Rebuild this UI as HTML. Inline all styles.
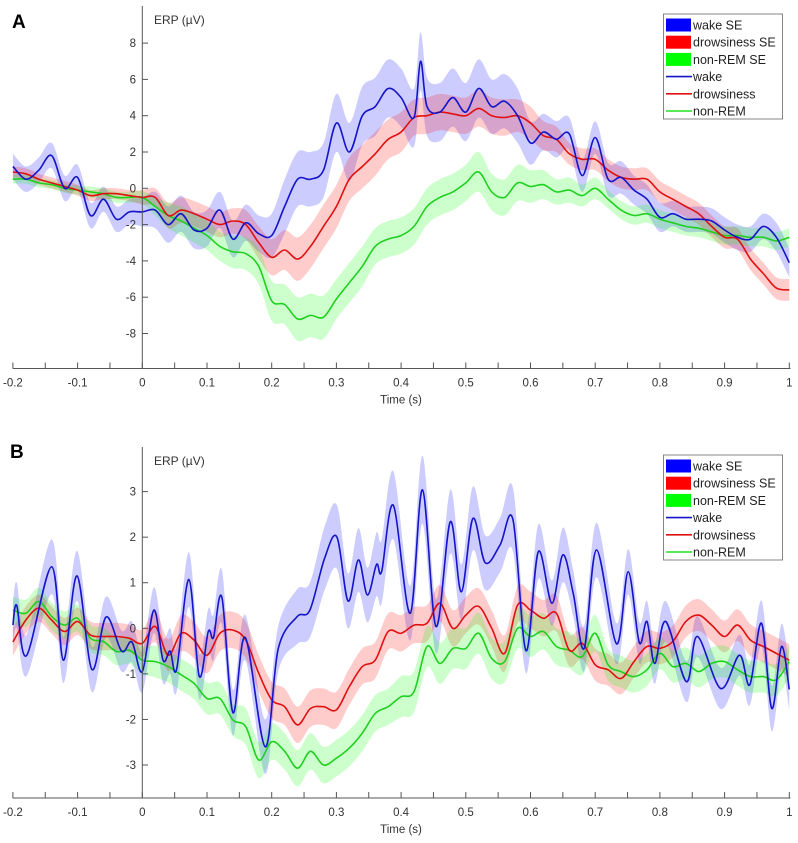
<!DOCTYPE html>
<html><head><meta charset="utf-8">
<style>
html,body{margin:0;padding:0;background:#fff;}
svg{display:block;font-family:"Liberation Sans",Arial,sans-serif;}
</style></head>
<body>
<svg id="chart" width="798" height="843" viewBox="0 0 798 843"></svg>
<script>
// ---------- Panel A data ----------
const timesA = [-0.2,-0.18,-0.16,-0.14,-0.12,-0.1,-0.08,-0.06,-0.04,-0.02,0,0.02,0.04,0.06,0.08,0.1,0.12,0.14,0.16,0.18,0.2,0.22,0.24,0.26,0.28,0.3,0.32,0.34,0.36,0.38,0.4,0.42,0.43,0.44,0.46,0.48,0.5,0.52,0.54,0.56,0.58,0.6,0.62,0.64,0.66,0.68,0.7,0.72,0.74,0.76,0.78,0.8,0.82,0.84,0.86,0.88,0.9,0.92,0.94,0.96,0.98,1.0];
const wakeA = [1.2,0.5,1.0,1.8,0,0.6,-1.5,-0.6,-1.7,-1.3,-1.3,-1.2,-2.0,-1.4,-2.3,-2.2,-1.2,-2.8,-1.9,-2.5,-2.6,-1.0,0.5,0.5,1.0,3.6,2.0,4.0,4.5,5.5,5.0,3.9,7.0,4.5,4.2,5.0,4.2,5.5,4.5,4.8,4.0,2.5,3.1,2.7,3.0,0.7,2.8,0.5,0.6,-0.1,-0.6,-1.6,-1.4,-1.7,-1.7,-1.8,-2.3,-2.7,-2.8,-2.1,-2.7,-4.1];
const wakeSeA = [0.7,0.7,0.7,0.7,0.7,0.7,0.7,0.7,0.7,0.7,0.8,1.0,1.0,1.0,1.0,1.0,1.0,1.0,1.0,1.0,1.2,1.5,1.5,1.5,1.5,1.6,1.6,1.6,1.6,1.6,1.6,1.6,1.6,1.6,1.6,1.6,1.6,1.6,1.5,1.5,1.5,1.2,1.0,1.0,0.9,0.9,0.9,0.9,0.9,0.8,0.8,0.8,0.7,0.7,0.7,0.7,0.7,0.7,0.7,0.7,0.8,0.8];
const timesA2 = [-0.2,-0.18,-0.16,-0.14,-0.12,-0.1,-0.08,-0.06,-0.04,-0.02,0,0.02,0.04,0.06,0.08,0.1,0.12,0.14,0.16,0.18,0.2,0.22,0.24,0.26,0.28,0.3,0.32,0.34,0.36,0.38,0.4,0.42,0.44,0.46,0.48,0.5,0.52,0.54,0.56,0.58,0.6,0.62,0.64,0.66,0.68,0.7,0.72,0.74,0.76,0.78,0.8,0.82,0.84,0.86,0.88,0.9,0.92,0.94,0.96,0.98,1.0];
const drowsyA = [0.9,0.8,0.5,0.3,0.1,-0.1,-0.4,-0.3,-0.3,-0.4,-0.5,-0.5,-1.5,-1.2,-1.4,-1.7,-2.0,-1.8,-2.0,-3.0,-3.8,-3.4,-3.9,-3.2,-2.1,-1.0,0.5,1.2,1.9,2.7,3.1,3.9,4.0,4.2,4.1,4.0,4.4,4.0,3.9,4.0,3.6,2.9,2.7,1.9,1.6,1.6,1.0,0.6,0.5,0.5,-0.2,-0.6,-1.0,-1.4,-2.1,-2.7,-2.8,-3.9,-4.7,-5.5,-5.6];
const drowsySeA = [0.3,0.3,0.3,0.3,0.3,0.3,0.3,0.3,0.3,0.3,0.4,0.5,0.7,0.7,0.7,0.7,0.7,0.7,0.8,0.9,1.0,1.1,1.2,1.2,1.2,1.2,1.2,1.2,1.2,1.1,1.1,1.0,1.0,1.0,1.0,1.0,1.0,1.0,1.0,0.9,0.9,0.8,0.7,0.6,0.6,0.6,0.6,0.6,0.6,0.6,0.6,0.6,0.6,0.6,0.6,0.6,0.6,0.6,0.6,0.6,0.6];
const nremA = [0.5,0.5,0.3,0.2,0.0,-0.1,-0.2,-0.3,-0.5,-0.5,-0.5,-1.0,-1.5,-1.8,-2.2,-2.6,-3.2,-3.5,-3.6,-4.3,-6.2,-6.4,-7.2,-7.0,-7.1,-6.1,-5.2,-4.3,-3.2,-2.8,-2.6,-2.1,-1.0,-0.5,-0.2,0.3,0.9,-0.2,-0.5,0.3,0.1,0.2,-0.2,-0.1,-0.4,0.0,-0.6,-1.2,-1.5,-1.4,-1.7,-1.9,-2.1,-2.2,-2.4,-2.6,-2.6,-2.7,-2.7,-2.9,-2.7];
const nremSeA = [0.25,0.25,0.25,0.25,0.25,0.25,0.3,0.3,0.3,0.3,0.35,0.5,0.7,0.8,0.8,0.8,0.8,0.9,0.9,1.0,1.1,1.1,1.2,1.2,1.2,1.1,1.1,1.1,1.0,1.0,1.0,1.0,1.0,1.0,1.0,1.0,1.1,1.0,1.0,1.0,0.9,0.8,0.7,0.7,0.6,0.6,0.5,0.5,0.5,0.5,0.5,0.5,0.5,0.5,0.5,0.5,0.5,0.5,0.5,0.5,0.5];

// ---------- Panel B data ----------
const timesWakeB = [-0.2,-0.194,-0.179,-0.14,-0.122,-0.101,-0.078,-0.056,-0.032,-0.016,0,0.018,0.032,0.043,0.053,0.072,0.088,0.102,0.11,0.123,0.14,0.159,0.19,0.21,0.239,0.259,0.282,0.301,0.318,0.334,0.348,0.362,0.37,0.388,0.414,0.433,0.454,0.476,0.493,0.511,0.53,0.553,0.573,0.593,0.612,0.633,0.65,0.666,0.683,0.702,0.733,0.751,0.768,0.78,0.792,0.809,0.841,0.858,0.894,0.923,0.939,0.957,0.973,0.988,1.0];
const wakeB = [0.07,0.5,-0.6,1.35,-0.7,1.15,-0.9,0.25,-0.5,-0.3,-0.95,0.4,-0.7,-0.5,-0.9,1.07,-1.05,-0.07,-0.2,0.68,-1.85,-0.2,-2.6,-0.45,0.25,0.4,1.55,2.0,0.6,1.5,0.73,1.4,1.25,2.7,0.33,3.04,0.04,2.34,0.8,2.41,1.44,1.83,2.38,-0.49,1.68,0.55,1.61,0.77,-0.44,1.72,-0.34,1.24,-0.31,0.15,-0.77,0.15,-1.17,-0.18,-1.32,-0.59,-1.24,0.11,-1.76,-0.4,-1.34];
const wakeSeB = [0.45,0.5,0.45,0.6,0.5,0.55,0.5,0.45,0.45,0.45,0.45,0.5,0.5,0.5,0.5,0.6,0.5,0.5,0.5,0.6,0.5,0.5,0.6,0.5,0.6,0.6,0.7,0.7,0.6,0.7,0.6,0.7,0.7,0.75,0.6,0.75,0.6,0.7,0.6,0.7,0.6,0.6,0.7,0.5,0.6,0.5,0.6,0.5,0.5,0.6,0.45,0.5,0.45,0.45,0.45,0.45,0.45,0.45,0.45,0.45,0.45,0.5,0.5,0.5,0.45];
const timesB = [-0.2,-0.18,-0.16,-0.14,-0.12,-0.1,-0.08,-0.06,-0.04,-0.02,0,0.02,0.04,0.06,0.08,0.1,0.12,0.14,0.16,0.18,0.2,0.22,0.24,0.26,0.28,0.3,0.32,0.34,0.36,0.38,0.4,0.42,0.44,0.46,0.48,0.5,0.52,0.54,0.56,0.58,0.6,0.62,0.64,0.66,0.68,0.7,0.72,0.74,0.76,0.78,0.8,0.82,0.84,0.86,0.88,0.9,0.92,0.94,0.96,0.98,1.0];
const drowsyB = [-0.3,0.18,0.44,0.18,-0.07,0.15,-0.15,-0.18,-0.18,-0.22,-0.33,0.04,-0.59,-0.11,-0.26,-0.59,-0.11,-0.04,-0.26,-0.99,-1.57,-1.72,-2.12,-1.76,-1.72,-1.79,-1.28,-0.84,-0.7,-0.07,-0.11,0.07,0.11,0.55,0.0,0.29,0.48,0.0,-0.55,0.51,0.4,0.22,0.33,-0.48,-0.33,-0.8,-0.91,-1.1,-0.73,-0.4,-0.44,-0.29,0.15,0.29,0.07,-0.18,0.07,-0.26,-0.4,-0.55,-0.7];
const drowsySeB = [0.3,0.3,0.3,0.3,0.3,0.3,0.3,0.3,0.3,0.3,0.3,0.35,0.35,0.4,0.4,0.4,0.4,0.4,0.4,0.4,0.4,0.4,0.4,0.4,0.4,0.4,0.4,0.4,0.4,0.4,0.4,0.4,0.4,0.4,0.4,0.4,0.4,0.4,0.4,0.4,0.4,0.4,0.4,0.35,0.35,0.35,0.35,0.35,0.35,0.35,0.35,0.35,0.35,0.35,0.35,0.35,0.35,0.35,0.35,0.35,0.35];
const nremB = [0.4,0.33,0.59,0.26,0.07,0.22,-0.22,-0.29,-0.51,-0.48,-0.7,-0.73,-0.84,-1.02,-1.21,-1.54,-1.54,-2.01,-2.16,-2.89,-2.49,-2.7,-3.07,-2.7,-3.0,-2.85,-2.63,-2.3,-1.87,-1.72,-1.5,-1.39,-0.4,-0.77,-0.44,-0.44,-0.11,-0.66,-0.73,0.0,-0.18,-0.07,-0.4,-0.48,-0.62,-0.11,-0.8,-0.95,-1.06,-0.91,-0.55,-0.84,-0.77,-0.95,-0.77,-0.73,-0.91,-1.06,-1.06,-1.13,-0.73];
const nremSeB = [0.3,0.3,0.3,0.3,0.3,0.3,0.3,0.3,0.3,0.3,0.3,0.35,0.35,0.35,0.35,0.35,0.35,0.35,0.4,0.4,0.4,0.4,0.4,0.4,0.4,0.4,0.4,0.4,0.4,0.4,0.45,0.45,0.45,0.45,0.45,0.45,0.45,0.45,0.45,0.45,0.45,0.4,0.4,0.4,0.4,0.4,0.35,0.35,0.35,0.35,0.35,0.35,0.35,0.35,0.35,0.35,0.35,0.35,0.35,0.35,0.35];

const xTickLabels = ["-0.2","-0.1","0","0.1","0.2","0.3","0.4","0.5","0.6","0.7","0.8","0.9","1"];
const yTicksA = [-8,-6,-4,-2,0,2,4,6,8];
const yTicksB = [-3,-2,-1,0,1,2,3];
const legendLabels = ["wake SE","drowsiness SE","non-REM SE","wake","drowsiness","non-REM"];

const NS = "http://www.w3.org/2000/svg";
const svg = document.getElementById('chart');
function mk(tag, attrs, parent){
  const e = document.createElementNS(NS, tag);
  for (const k in attrs) e.setAttribute(k, attrs[k]);
  (parent||svg).appendChild(e);
  return e;
}
function xScale(t){ return 142.3 + 647*t; }
function smoothPath(pts, move){
  let d = (move?'M':'L') + pts[0][0].toFixed(1)+','+pts[0][1].toFixed(1);
  for (let i=0;i<pts.length-1;i++){
    const p0=pts[Math.max(0,i-1)], p1=pts[i], p2=pts[i+1], p3=pts[Math.min(pts.length-1,i+2)];
    const c1x=p1[0]+(p2[0]-p0[0])/6, c1y=p1[1]+(p2[1]-p0[1])/6;
    const c2x=p2[0]-(p3[0]-p1[0])/6, c2y=p2[1]-(p3[1]-p1[1])/6;
    d+=' C'+c1x.toFixed(1)+','+c1y.toFixed(1)+' '+c2x.toFixed(1)+','+c2y.toFixed(1)+' '+p2[0].toFixed(1)+','+p2[1].toFixed(1);
  }
  return d;
}
function drawBand(g, times, vals, se, yScale, color, name){
  const up = times.map((t,i)=>[xScale(t), yScale(vals[i]+se[i])]);
  const lo = times.map((t,i)=>[xScale(t), yScale(vals[i]-se[i])]).reverse();
  const p = mk('path',{d: smoothPath(up,true)+' '+smoothPath(lo,false)+' Z', fill:color, 'fill-opacity':0.2, stroke:'none'}, g);
  
  
}
function drawLine(g, times, vals, yScale, color, name){
  const pts = times.map((t,i)=>[xScale(t), yScale(vals[i])]);
  const p = mk('path',{d: smoothPath(pts,true), fill:'none', stroke:color, 'stroke-width':1.6}, g);
  
  
}
function drawPanel(cfg){
  const g = mk('g',{});
  
  
  const ys = cfg.yScale;
  // bands
  cfg.bands.forEach(b=>drawBand(g, b[0], b[1], b[2], ys, b[3], b[4]));
  cfg.lines.forEach(l=>drawLine(g, l[0], l[1], ys, l[2], l[3]));
  // axes
  const xa = mk('g',{}, g);
  
  
  mk('line',{x1:12.7,x2:790.5,y1:cfg.axisY,y2:cfg.axisY,stroke:'#555','stroke-width':1}, xa);
  for (let k=0;k<=24;k++){
    const x = xScale(-0.2+k*0.05);
    mk('line',{x1:x,x2:x,y1:cfg.axisY,y2:cfg.axisY-6,stroke:'#555','stroke-width':1}, xa);
  }
  xTickLabels.forEach((lab,i)=>{
    const t = mk('text',{x:xScale(-0.2+i*0.1), y:cfg.axisY+18, 'text-anchor':'middle','font-size':11.5, fill:'#333'}, xa);
    t.textContent = lab;
    
    
  });
  const xt = mk('text',{x:401, y:cfg.axisY+35, 'text-anchor':'middle','font-size':11.5, fill:'#333'}, xa);
  xt.textContent = 'Time (s)';
  
  
  const ya = mk('g',{}, g);
  
  
  mk('line',{x1:142.3,x2:142.3,y1:cfg.axisTop,y2:cfg.axisY,stroke:'#555','stroke-width':1}, ya);
  cfg.yTicks.forEach(v=>{
    const y = ys(v);
    mk('line',{x1:142.3,x2:148,y1:y,y2:y,stroke:'#555','stroke-width':1}, ya);
    const t = mk('text',{x:136, y:y+4, 'text-anchor':'end','font-size':11.5, fill:'#333'}, ya);
    t.textContent = String(v);
    
    
  });
  const yt = mk('text',{x:154, y:cfg.axisTop+18, 'font-size':12, fill:'#333'}, ya);
  yt.textContent = 'ERP (\u00b5V)';
  
  
  const pl = mk('text',{x:cfg.letterX, y:cfg.letterY, 'font-size':19, 'font-weight':'bold', fill:'#000'}, g);
  pl.textContent = cfg.letter;
  
  
  // legend
  const lg = mk('g',{}, g);
  
  
  const ly = cfg.legendY;
  mk('rect',{x:663.5,y:ly,width:119,height:105,fill:'#fff',stroke:'#666','stroke-width':0.8}, lg);
  const cols = ['#0000ff','#ff0000','#00ff00','#1414c8','#e01010','#20e020'];
  legendLabels.forEach((lab,i)=>{
    const cy = ly + 11 + i*17.2;
    const e = mk('g',{}, lg);
    
    
    if (i<3) mk('rect',{x:666,y:cy-6.5,width:25,height:13,fill:cols[i]}, e);
    else mk('line',{x1:666,x2:692,y1:cy,y2:cy,stroke:cols[i],'stroke-width':1.6}, e);
    const t = mk('text',{x:693, y:cy+4.5, 'font-size':12.5, fill:'#222'}, e);
    t.textContent = lab;
  });
}
drawPanel({
  name:'panel-a', letter:'A', letterX:12, letterY:28,
  yScale: v=>188.3-18.15*v, axisY:368.5, axisTop:6, yTicks:yTicksA, legendY:14,
  bands:[[timesA,wakeA,wakeSeA,'#0000ff','wake-se-band'],[timesA2,drowsyA,drowsySeA,'#ff0000','drowsiness-se-band'],[timesA2,nremA,nremSeA,'#00ff00','non-rem-se-band']],
  lines:[[timesA2,nremA,'#20d020','non-rem-line'],[timesA2,drowsyA,'#e01010','drowsiness-line'],[timesA,wakeA,'#1414c8','wake-line']]
});
drawPanel({
  name:'panel-b', letter:'B', letterX:10, letterY:458,
  yScale: v=>628.3-45.57*v, axisY:798, axisTop:447, yTicks:yTicksB, legendY:455,
  bands:[[timesWakeB,wakeB,wakeSeB,'#0000ff','wake-se-band'],[timesB,drowsyB,drowsySeB,'#ff0000','drowsiness-se-band'],[timesB,nremB,nremSeB,'#00ff00','non-rem-se-band']],
  lines:[[timesB,nremB,'#20d020','non-rem-line'],[timesB,drowsyB,'#e01010','drowsiness-line'],[timesWakeB,wakeB,'#1414c8','wake-line']]
});
</script>
</body></html>
